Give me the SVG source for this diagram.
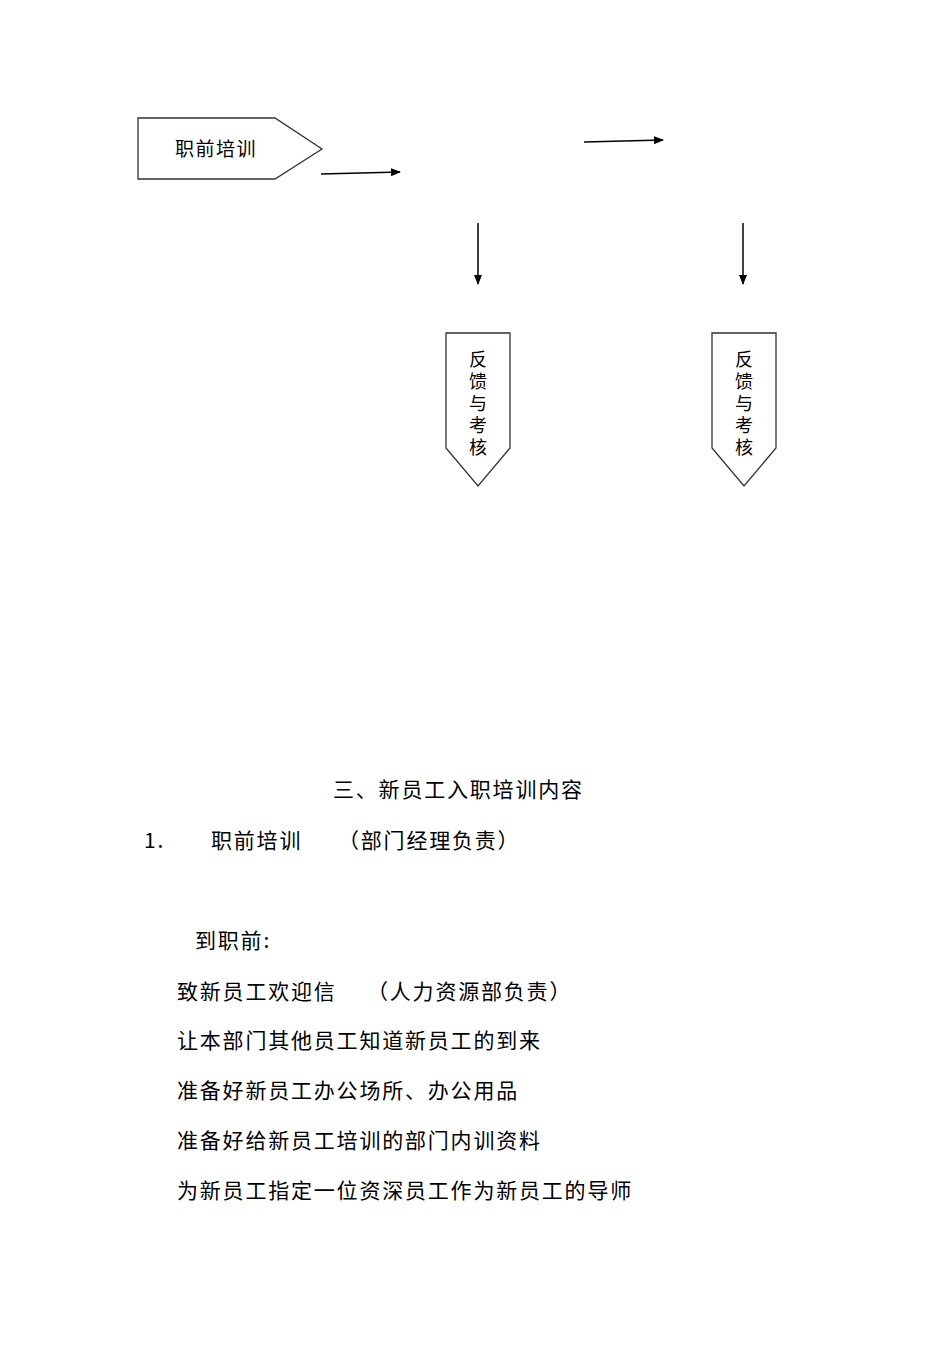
<svg xmlns="http://www.w3.org/2000/svg" width="950" height="1345" viewBox="0 0 950 1345">
<defs><marker id="ah" markerWidth="10" markerHeight="8" refX="9" refY="4" orient="auto" markerUnits="userSpaceOnUse"><path d="M0,0 L10,4 L0,8 z" fill="#000"/></marker></defs>
<style>
.s{fill:#fff;stroke:#333;stroke-width:1.3}
.l{stroke:#000;stroke-width:1.5;fill:none;marker-end:url(#ah)}
text{font-family:"Noto Sans CJK SC","Liberation Sans",sans-serif;fill:#000}
.n{font-size:19px;letter-spacing:1.5px}
.v{font-size:18px}
.b{font-size:21px;letter-spacing:1.8px}
</style>
<rect width="950" height="1345" fill="#fff"/>
<g id="node1"><path class="s" d="M138,118 H275 L322,149 L275,179 H138 Z"/><text class="n" x="175" y="156">职前培训</text></g>
<g id="node2"><path class="s" d="M446,333 H510 V448 L478,486 L446,448 Z"/><text class="v" x="478" y="366" text-anchor="middle">反</text><text class="v" x="478" y="388" text-anchor="middle">馈</text><text class="v" x="478" y="410" text-anchor="middle">与</text><text class="v" x="478" y="432" text-anchor="middle">考</text><text class="v" x="478" y="454" text-anchor="middle">核</text></g>
<g id="node3"><path class="s" d="M712,333 H776 V448 L744,486 L712,448 Z"/><text class="v" x="744" y="366" text-anchor="middle">反</text><text class="v" x="744" y="388" text-anchor="middle">馈</text><text class="v" x="744" y="410" text-anchor="middle">与</text><text class="v" x="744" y="432" text-anchor="middle">考</text><text class="v" x="744" y="454" text-anchor="middle">核</text></g>
<g id="connectors">
<path class="l" d="M321,174 L400,172"/>
<path class="l" d="M584,142 L663,140"/>
<path class="l" d="M478,223 V284"/>
<path class="l" d="M743,223 V284"/>
</g>
<g id="content">
<text class="b" x="333" y="797">三、新员工入职培训内容</text>
<text class="b" x="144" y="848">1.</text>
<text class="b" x="211" y="848">职前培训</text>
<text class="b" x="338" y="848">（部门经理负责）</text>
<text class="b" x="195" y="948">到职前:</text>
<text class="b" x="177" y="999">致新员工欢迎信</text>
<text class="b" x="367" y="999">（人力资源部负责）</text>
<text class="b" x="177" y="1048">让本部门其他员工知道新员工的到来</text>
<text class="b" x="177" y="1098">准备好新员工办公场所、办公用品</text>
<text class="b" x="177" y="1148">准备好给新员工培训的部门内训资料</text>
<text class="b" x="177" y="1198">为新员工指定一位资深员工作为新员工的导师</text>
</g>
</svg>
